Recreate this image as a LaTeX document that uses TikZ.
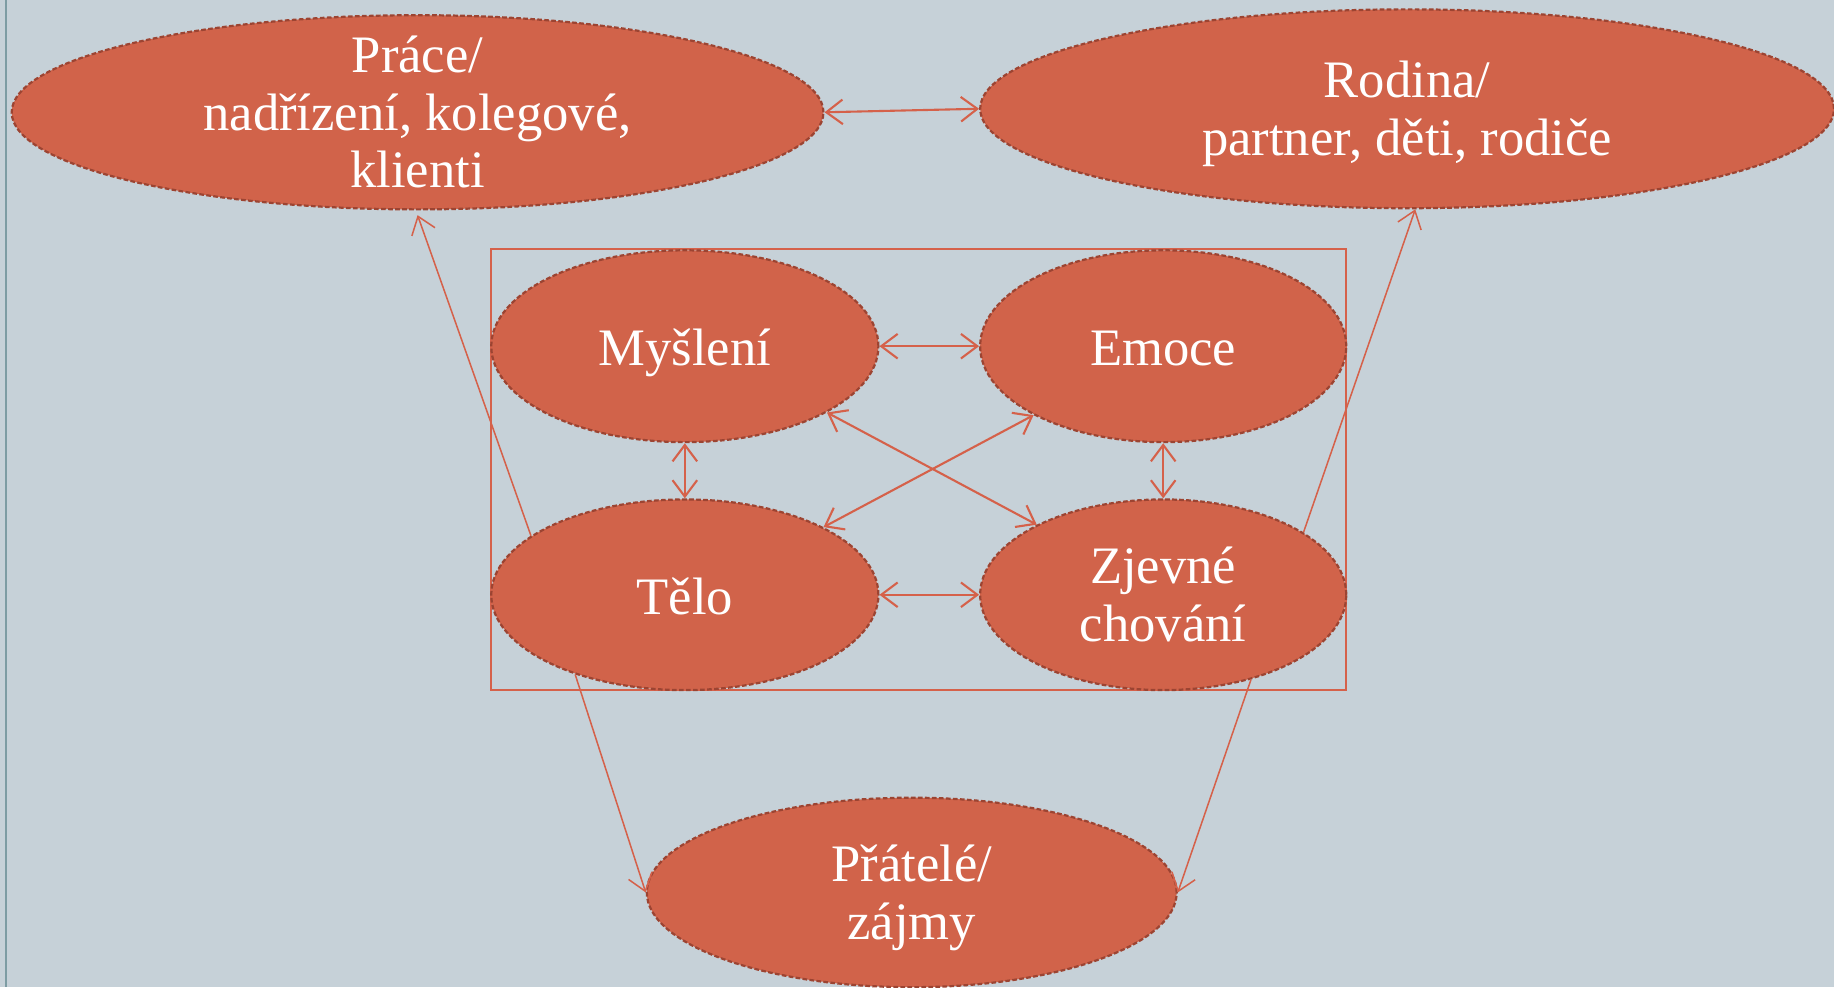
\documentclass[tikz,border=0pt]{standalone}
\usepackage{fontspec}
\setmainfont{Liberation Serif}
\usetikzlibrary{shapes.geometric,arrows.meta}
\definecolor{bgc}{HTML}{C6D1D8}
\definecolor{edgec}{HTML}{7D9CA3}
\definecolor{fillc}{HTML}{D1634A}
\definecolor{bordc}{HTML}{9C4432}
\definecolor{arrc}{HTML}{D5614A}
\tikzset{
  oval/.style={ellipse, fill=fillc, draw=bordc, line width=1.9pt,
    dash pattern=on 4pt off 2pt, inner sep=0pt},
  lbl/.style={text=white, align=center, inner sep=0pt, yshift=-7pt, font=\fontsize{45}{49.5}\selectfont,
    execute at begin node=\strut, execute at end node=\strut},
  twoway/.style={draw=arrc, line width=1.8pt, {Straight Barb[length=14pt,width=21pt]}-{Straight Barb[length=14pt,width=21pt]}},
  oneway/.style={draw=arrc, line width=1.3pt, -{Straight Barb[length=14pt,width=21pt]}},
  frame/.style={draw=arrc, line width=1.8pt}
}
\begin{document}
\begin{tikzpicture}[x=1pt,y=-1pt]
\useasboundingbox (0,0) rectangle (1568,844);
\fill[bgc] (0,0) rectangle (1568,844);
\draw[edgec, line width=2pt] (5,0) -- (5,844);
% frame
\node[frame, minimum width=731pt, minimum height=377pt, inner sep=0pt] (box) at (785.5,401.5) {};
% nodes
\node[oval, minimum width=694pt, minimum height=166pt, label={[lbl]center:{Práce/\\nadřízení, kolegové,\\klienti}}] (prace) at (357,96) {};
\node[oval, minimum width=730pt, minimum height=170pt, label={[lbl]center:{Rodina/\\partner, děti, rodiče}}] (rodina) at (1203,93) {};
\node[oval, minimum width=331pt, minimum height=164pt, label={[lbl]center:{Myšlení}}] (mys) at (585.5,296) {};
\node[oval, minimum width=313pt, minimum height=164pt, label={[lbl]center:{Emoce}}] (emo) at (994.5,296) {};
\node[oval, minimum width=331pt, minimum height=163pt, label={[lbl]center:{Tělo}}] (telo) at (585.5,508.5) {};
\node[oval, minimum width=313pt, minimum height=163pt, label={[lbl]center:{Zjevné\\chování}}] (zj) at (994.5,508.5) {};
\node[oval, minimum width=453pt, minimum height=162pt, label={[lbl]center:{Přátelé/\\zájmy}}] (prat) at (779.5,763) {};
% two-way connectors
\draw[twoway] (prace.east) -- (rodina.west);
\draw[twoway] (mys.east) -- (emo.west);
\draw[twoway] (telo.east) -- (zj.west);
\draw[twoway] (mys.south) -- (telo.north);
\draw[twoway] (emo.south) -- (zj.north);
\draw[twoway] (mys.-25.6) -- (zj.151.8);
\draw[twoway] (emo.-152.6) -- (telo.26.4);
% one-way connectors
\draw[oneway] (telo.159.3) -- ([yshift=-4pt]prace.south);
\draw[oneway] (zj.24.4) -- ([xshift=7pt]rodina.south);
\draw[oneway] (telo.-144.4) -- (prat.west);
\draw[oneway] (zj.-44.2) -- (prat.east);
\end{tikzpicture}
\end{document}
